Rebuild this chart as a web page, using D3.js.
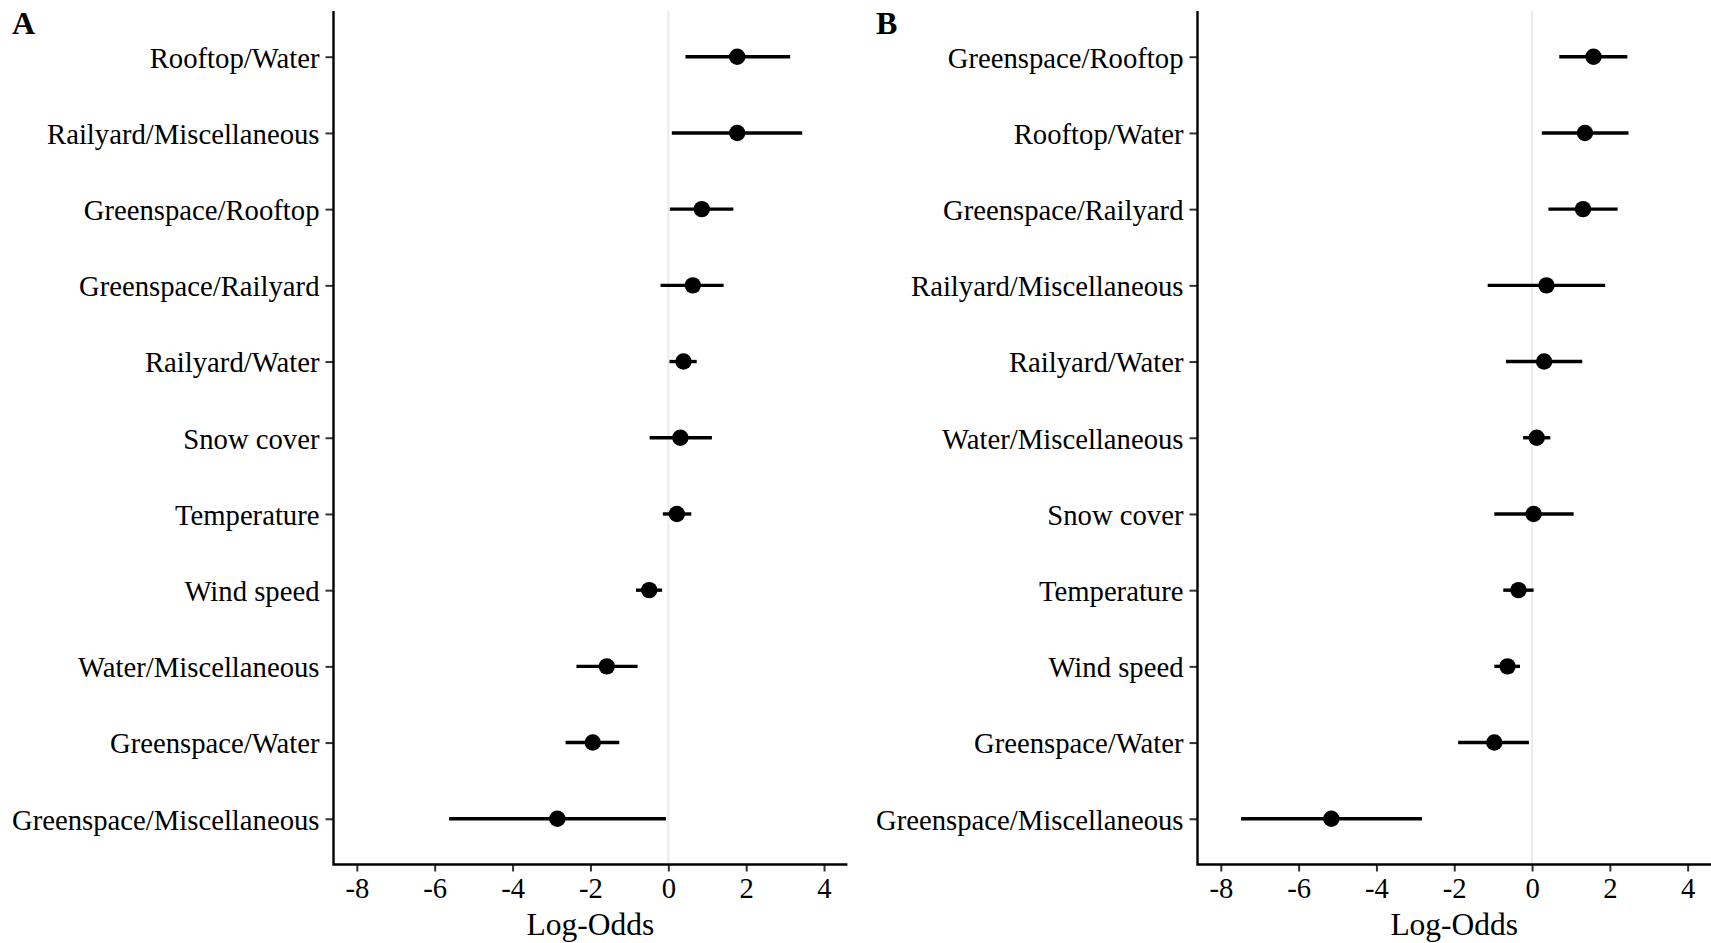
<!DOCTYPE html>
<html>
<head>
<meta charset="utf-8">
<script src="https://cdn.jsdelivr.net/npm/d3@7"></script>
<style>
  html, body { margin: 0; padding: 0; background: #fff; }
  svg { display: block; }
  text { font-family: "Liberation Serif", "Times New Roman", serif; fill: #000; }
</style>
</head>
<body>
<svg id="chart" width="1711" height="943"></svg>
<script>
// Panel A: coefficient estimates with 95% intervals (log-odds), top to bottom
const categoriesA = [
  "Rooftop/Water", "Railyard/Miscellaneous", "Greenspace/Rooftop", "Greenspace/Railyard",
  "Railyard/Water", "Snow cover", "Temperature", "Wind speed",
  "Water/Miscellaneous", "Greenspace/Water", "Greenspace/Miscellaneous"
];
const estimateA = [1.77, 1.77, 0.86, 0.63, 0.39, 0.31, 0.22, -0.49, -1.58, -1.94, -2.85];
const lowerA    = [0.44, 0.09, 0.04, -0.20, 0.03, -0.48, -0.14, -0.83, -2.36, -2.64, -5.63];
const upperA    = [3.13, 3.44, 1.67, 1.42, 0.73, 1.12, 0.59, -0.16, -0.79, -1.26, -0.06];

// Panel B
const categoriesB = [
  "Greenspace/Rooftop", "Rooftop/Water", "Greenspace/Railyard", "Railyard/Miscellaneous",
  "Railyard/Water", "Water/Miscellaneous", "Snow cover", "Temperature",
  "Wind speed", "Greenspace/Water", "Greenspace/Miscellaneous"
];
const estimateB = [1.58, 1.36, 1.31, 0.37, 0.31, 0.12, 0.04, -0.35, -0.63, -0.97, -5.16];
const lowerB    = [0.70, 0.25, 0.42, -1.14, -0.67, -0.23, -0.97, -0.74, -0.97, -1.90, -7.48];
const upperB    = [2.45, 2.48, 2.20, 1.88, 1.29, 0.47, 1.07, 0.04, -0.31, -0.08, -2.83];

const xTicks = [-8, -6, -4, -2, 0, 2, 4];
const xLimits = [-8, 4];

const FONT = "Liberation Serif, Times New Roman, serif";
const svg = d3.select("#chart");

function drawPanel(opts) {
  const { tag, left, right, top, bottom, cats, est, lo, hi } = opts;
  const g = svg.append("g");

  // 5% expansion of the limits on each side
  const span = xLimits[1] - xLimits[0];
  const x = d3.scaleLinear()
    .domain([xLimits[0] - 0.05 * span, xLimits[1] + 0.05 * span])
    .range([left, right]);

  // discrete axis with 0.6 units of padding at each end
  const n = cats.length;
  const step = (bottom - top) / (n - 1 + 1.2);
  const y = d3.scalePoint()
    .domain(cats)
    .range([top + 0.6 * step, bottom - 0.6 * step]);

  // reference line at zero
  g.append("line")
    .attr("x1", x(0)).attr("x2", x(0))
    .attr("y1", top).attr("y2", bottom)
    .attr("stroke", "#ebebeb").attr("stroke-width", 2);

  const rows = cats.map((c, i) => ({ c, est: est[i], lo: lo[i], hi: hi[i] }));

  g.selectAll("line.ci").data(rows).join("line")
    .attr("class", "ci")
    .attr("x1", d => x(d.lo)).attr("x2", d => x(d.hi))
    .attr("y1", d => y(d.c)).attr("y2", d => y(d.c))
    .attr("stroke", "#000").attr("stroke-width", 3.4);

  g.selectAll("circle.pt").data(rows).join("circle")
    .attr("class", "pt")
    .attr("cx", d => x(d.est)).attr("cy", d => y(d.c))
    .attr("r", 8.2).attr("fill", "#000");

  // y axis
  const yAxis = g.append("g")
    .attr("transform", `translate(${left},0)`)
    .call(d3.axisLeft(y).tickSize(8).tickPadding(6))
    .attr("font-family", FONT);
  yAxis.select(".domain").remove();
  yAxis.selectAll(".tick line").attr("stroke", "#333").attr("stroke-width", 2);
  yAxis.selectAll(".tick text")
    .attr("font-size", 28.7).attr("fill", "#000")
    .attr("dy", "0.36em");

  // x axis
  const xAxis = g.append("g")
    .attr("transform", `translate(0,${bottom})`)
    .call(d3.axisBottom(x).tickValues(xTicks).tickSize(7).tickPadding(6)
      .tickFormat(d3.format("d")))
    .attr("font-family", FONT);
  xAxis.select(".domain").remove();
  xAxis.selectAll(".tick line").attr("stroke", "#333").attr("stroke-width", 2);
  xAxis.selectAll(".tick text")
    .attr("font-size", 28.7).attr("fill", "#000")
    .text(d => String(d).replace("\u2212", "-"));

  // axis lines
  g.append("path")
    .attr("d", `M${left},${top}V${bottom}H${right}`)
    .attr("fill", "none").attr("stroke", "#000").attr("stroke-width", 2.4);

  // axis title
  g.append("text")
    .attr("x", (left + right) / 2).attr("y", 935)
    .attr("text-anchor", "middle")
    .attr("font-size", 31.5)
    .text("Log-Odds");

  // panel tag
  svg.append("text")
    .attr("x", tag.x).attr("y", 34)
    .attr("font-size", 32).attr("font-weight", "bold")
    .text(tag.label);
}

drawPanel({
  tag: { label: "A", x: 12 },
  left: 333.5, right: 847.4, top: 11, bottom: 864.5,
  cats: categoriesA, est: estimateA, lo: lowerA, hi: upperA
});

drawPanel({
  tag: { label: "B", x: 876 },
  left: 1197.5, right: 1711, top: 11, bottom: 864.5,
  cats: categoriesB, est: estimateB, lo: lowerB, hi: upperB
});
</script>
</body>
</html>
